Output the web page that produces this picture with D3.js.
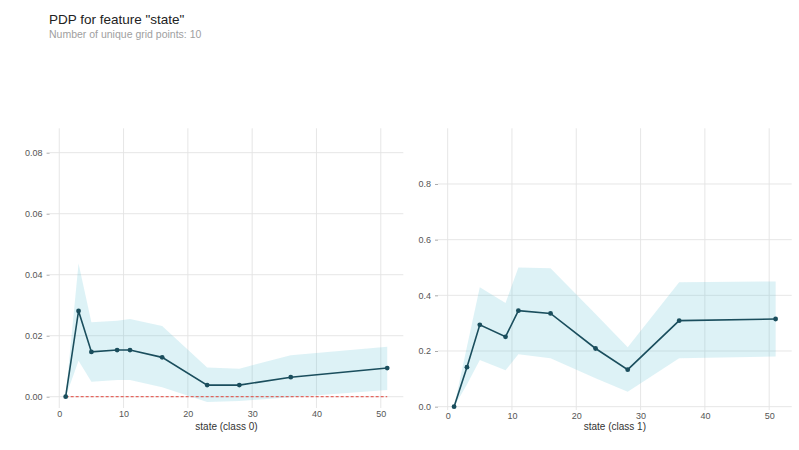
<!DOCTYPE html>
<html>
<head>
<meta charset="utf-8">
<script src="https://cdn.jsdelivr.net/npm/d3@7"></script>
<style>
  html, body { margin: 0; padding: 0; background: #fff; }
  svg { display: block; font-family: "Liberation Sans", Arial, sans-serif; }
</style>
</head>
<body>
<svg id="chart" width="799" height="450"></svg>
<script>
// ---- data ----
const gridPoints = [1, 3, 5, 9, 11, 16, 23, 28, 36, 51];

const class0Mean  = [0, 0.0281, 0.0147, 0.0153, 0.0153, 0.0129, 0.0038, 0.0038, 0.0064, 0.0094];
const class0Upper = [0, 0.0437, 0.0244, 0.0249, 0.0255, 0.0232, 0.0096, 0.0092, 0.0136, 0.0164];
const class0Lower = [0, 0.0118, 0.0049, 0.0055, 0.0055, 0.0031, -0.0017, -0.0014, -0.0002, 0.0022];

const class1Mean  = [0, 0.142, 0.294, 0.251, 0.345, 0.335, 0.209, 0.133, 0.309, 0.315];
const class1Upper = [0, 0.215, 0.429, 0.372, 0.500, 0.497, 0.333, 0.213, 0.447, 0.450];
const class1Lower = [0, 0.080, 0.168, 0.131, 0.188, 0.174, 0.102, 0.054, 0.174, 0.180];

const xTicks = [0, 10, 20, 30, 40, 50];
const class0YTicks = [0, 0.02, 0.04, 0.06, 0.08];
const class1YTicks = [0, 0.2, 0.4, 0.6, 0.8];

const titleText = 'PDP for feature "state"';
const subtitleText = "Number of unique grid points: 10";
const panels = [
  { label: "state (class 0)", mean: class0Mean, upper: class0Upper, lower: class0Lower,
    yTicks: class0YTicks, yDomain: [-0.0037, 0.088], fmt: d3.format(".2f"), zeroLine: true,
    left: 49.6, right: 403.3, top: 128.3, bottom: 408 },
  { label: "state (class 1)", mean: class1Mean, upper: class1Upper, lower: class1Lower,
    yTicks: class1YTicks, yDomain: [-0.012, 1.0], fmt: d3.format(".1f"), zeroLine: false,
    left: 438, right: 791.7, top: 128.3, bottom: 410 }
];

// ---- drawing ----
const svg = d3.select("#chart");

svg.append("text").attr("x", 49).attr("y", 23.5)
  .attr("font-size", 13.5).attr("fill", "#222").text(titleText);
svg.append("text").attr("x", 49).attr("y", 38)
  .attr("font-size", 10.5).attr("fill", "#a0a0a0").text(subtitleText);

panels.forEach(p => {
  const x = d3.scaleLinear().domain([-1.5, 53.5]).range([p.left, p.right]);
  const y = d3.scaleLinear().domain(p.yDomain).range([p.bottom, p.top]);
  const g = svg.append("g");

  // grid
  g.append("g").selectAll("line").data(xTicks).join("line")
    .attr("x1", d => x(d)).attr("x2", d => x(d))
    .attr("y1", p.top).attr("y2", p.bottom)
    .attr("stroke", "#e3e3e3").attr("stroke-width", 0.9);
  g.append("g").selectAll("line").data(p.yTicks).join("line")
    .attr("x1", p.left).attr("x2", p.right)
    .attr("y1", d => y(d)).attr("y2", d => y(d))
    .attr("stroke", "#e3e3e3").attr("stroke-width", 0.9);

  // y axis
  const yAxis = d3.axisLeft(y).tickValues(p.yTicks).tickFormat(p.fmt).tickSize(3).tickPadding(4);
  const ya = g.append("g").attr("transform", `translate(${p.left},0)`).call(yAxis);
  ya.select(".domain").remove();
  ya.selectAll(".tick line").attr("stroke", "#aaa");
  ya.selectAll("text").attr("fill", "#555").attr("font-size", 9)
    .attr("font-family", '"Liberation Sans", Arial, sans-serif');

  // x axis
  const xAxis = d3.axisBottom(x).tickValues(xTicks).tickSize(0).tickPadding(3);
  const xa = g.append("g").attr("transform", `translate(0,${p.bottom})`).call(xAxis);
  xa.select(".domain").remove();
  xa.selectAll("text").attr("fill", "#555").attr("font-size", 9)
    .attr("font-family", '"Liberation Sans", Arial, sans-serif');

  g.append("text").attr("x", (p.left + p.right) / 2).attr("y", 430)
    .attr("text-anchor", "middle").attr("font-size", 10).attr("fill", "#333")
    .text(p.label);

  // band
  const band = d3.area()
    .x((d, i) => x(gridPoints[i]))
    .y0((d, i) => y(p.lower[i]))
    .y1((d, i) => y(p.upper[i]));
  g.append("path").datum(p.mean).attr("d", band)
    .attr("fill", "#66c2d7").attr("fill-opacity", 0.22);

  // zero line
  if (p.zeroLine) {
    g.append("line")
      .attr("x1", x(gridPoints[0])).attr("x2", x(gridPoints[gridPoints.length - 1]))
      .attr("y1", y(0)).attr("y2", y(0))
      .attr("stroke", "#e3463c").attr("stroke-width", 1).attr("stroke-dasharray", "3,2");
  }

  // mean line
  const line = d3.line().x((d, i) => x(gridPoints[i])).y(d => y(d));
  g.append("path").datum(p.mean).attr("d", line)
    .attr("fill", "none").attr("stroke", "#1a4e5d").attr("stroke-width", 1.6);
  g.append("g").selectAll("circle").data(p.mean).join("circle")
    .attr("cx", (d, i) => x(gridPoints[i])).attr("cy", d => y(d)).attr("r", 2.4)
    .attr("fill", "#1a4e5d");
});
</script>
</body>
</html>
